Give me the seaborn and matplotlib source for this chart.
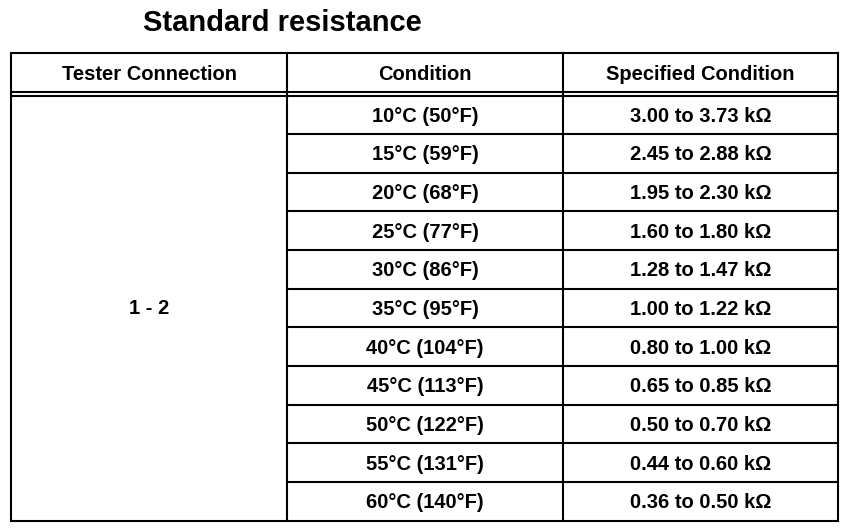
import matplotlib
matplotlib.use("Agg")
import matplotlib.pyplot as plt
import seaborn as sns

# table contents
title = "Standard resistance"
headers = ["Tester Connection", "Condition", "Specified Condition"]
connection = "1 - 2"
conditions = ["10°C (50°F)", "15°C (59°F)", "20°C (68°F)", "25°C (77°F)",
              "30°C (86°F)", "35°C (95°F)", "40°C (104°F)", "45°C (113°F)",
              "50°C (122°F)", "55°C (131°F)", "60°C (140°F)"]
specified = ["3.00 to 3.73 kΩ", "2.45 to 2.88 kΩ", "1.95 to 2.30 kΩ",
             "1.60 to 1.80 kΩ", "1.28 to 1.47 kΩ", "1.00 to 1.22 kΩ",
             "0.80 to 1.00 kΩ", "0.65 to 0.85 kΩ", "0.50 to 0.70 kΩ",
             "0.44 to 0.60 kΩ", "0.36 to 0.50 kΩ"]

sns.set_style("white")
plt.rcParams['font.family'] = ['Liberation Sans', 'DejaVu Sans']
plt.rcParams['text.color'] = 'black'

fig = plt.figure(figsize=(8.64, 5.30), dpi=100)
ax = fig.add_axes([0, 0, 1, 1])
ax.set_xlim(0, 864)
ax.set_ylim(530, 0)
ax.axis("off")

# layout in pixels
left, right = 11, 838
col_x = [left, 287, 563, right]
top = 53
head_bot = 92
body_top = 95.5
row_h = (520.5 - body_top) / len(conditions)
bottom = body_top + row_h * len(conditions)
lw = 1.5
fs = 14.5

ax.text(282, 23, title, ha="center", va="center", fontsize=21, fontweight="bold")

# outer frame and header lines
ax.plot([left, right, right, left, left], [top, top, bottom, bottom, top], color="black", lw=lw,
        solid_joinstyle="miter")
ax.plot([left, right], [head_bot, head_bot], color="black", lw=lw)
ax.plot([left, right], [body_top, body_top], color="black", lw=lw)
for x in col_x[1:3]:
    ax.plot([x, x], [top, bottom], color="black", lw=lw)

# row separators only in the two right columns
for i in range(1, len(conditions)):
    y = body_top + i * row_h
    ax.plot([col_x[1], right], [y, y], color="black", lw=lw)

for j, h in enumerate(headers):
    ax.text((col_x[j] + col_x[j + 1]) / 2, (top + head_bot) / 2 + 1.5, h,
            ha="center", va="center", fontsize=fs, fontweight="bold")

for i, (c, s) in enumerate(zip(conditions, specified)):
    yc = body_top + (i + 0.5) * row_h + 1.5
    ax.text((col_x[1] + col_x[2]) / 2, yc, c, ha="center", va="center",
            fontsize=fs, fontweight="bold")
    ax.text((col_x[2] + col_x[3]) / 2, yc, s, ha="center", va="center",
            fontsize=fs, fontweight="bold")

ax.text((col_x[0] + col_x[1]) / 2, (body_top + bottom) / 2 + 1, connection,
        ha="center", va="center", fontsize=fs, fontweight="bold")

fig.savefig("out.png", dpi=100, facecolor="white")
